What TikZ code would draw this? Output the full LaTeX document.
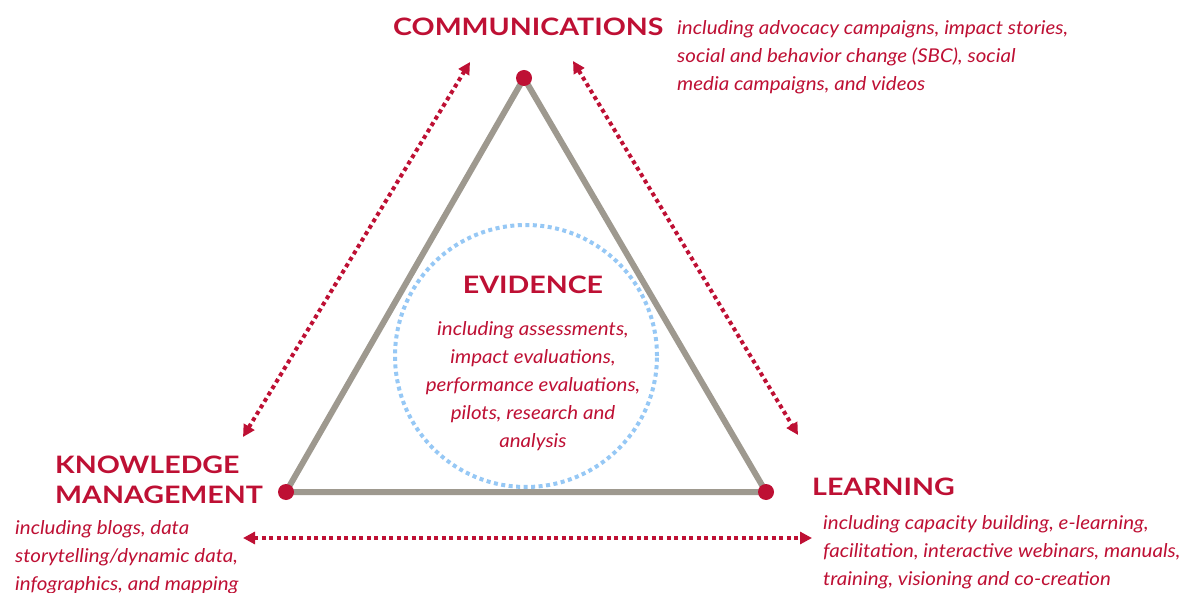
\documentclass[tikz,border=0pt]{standalone}
\usepackage{fontspec}
\setmainfont{Lato}[FakeStretch=1.08]
\newfontfamily\headfont{Lato}[FakeStretch=1.19]
\usetikzlibrary{arrows.meta}
\definecolor{kmred}{RGB}{190,16,52}
\definecolor{kmgray}{RGB}{158,153,143}
\definecolor{kmblue}{RGB}{150,200,245}
\begin{document}
\begin{tikzpicture}[x=1pt,y=-1pt,
  head/.style={font=\headfont\fontsize{24}{30}\selectfont\bfseries, text=kmred, inner sep=0pt},
  blurb/.style={font=\fontsize{19}{28}\selectfont\itshape, text=kmred, inner sep=0pt},
  corner/.style={circle, fill=kmred, inner sep=0pt, minimum size=16pt},
  link/.style={kmred, line width=4pt, dash pattern=on 4pt off 3.5pt,
    {Triangle[length=12pt,width=12pt]}-{Triangle[length=12pt,width=12pt]}}]
\useasboundingbox (0,0) rectangle (1180,593);
% triangle
\coordinate (top) at (524,78);
\coordinate (left) at (286,492);
\coordinate (right) at (766,492);
\draw[kmgray, line width=6pt, line join=round] (top) -- (left) -- (right) -- cycle;
\node[corner] (ctop) at (top) {};
\node[corner] (cleft) at (left) {};
\node[corner] (cright) at (right) {};
% evidence circle
\node[circle, draw=kmblue, line width=4pt, dash pattern=on 4pt off 3.5pt,
  minimum size=262pt, inner sep=0pt] (ring) at (526,356) {};
% two-way links
\coordinate (a1) at (243,437);
\coordinate (a2) at (470,62);
\coordinate (b1) at (573,61);
\coordinate (b2) at (798,435);
\coordinate (c1) at (243,538);
\coordinate (c2) at (812,538);
\draw[link] (a1) -- (a2);
\draw[link] (b1) -- (b2);
\draw[link] (c1) -- (c2);
% labels (base anchor = last line)
\node[head, anchor=base west] (comm) at (393,36) {COMMUNICATIONS};
\node[blurb, anchor=base west, align=left] (commtxt) at (677,91)
  {including advocacy campaigns, impact stories,\\
   social and behavior change (SBC), social\\
   media campaigns, and videos};
\node[head, anchor=base] (evid) at (533,294) {EVIDENCE};
\node[blurb, anchor=base, align=center] (evidtxt) at (533,447)
  {including assessments,\\ impact evaluations,\\ performance evaluations,\\
   pilots, research and\\ analysis};
\node[head, anchor=base west, align=left] (km) at (55,503)
  {KNOWLEDGE\\ MANAGEMENT};
\node[blurb, anchor=base west, align=left] (kmtxt) at (15,590)
  {including blogs, data\\ storytelling/dynamic data,\\ infographics, and mapping};
\node[head, anchor=base west] (learn) at (812,495) {LEARNING};
\node[blurb, anchor=base west, align=left] (learntxt) at (823,585)
  {including capacity building, e-learning,\\
   facilitation, interactive webinars, manuals,\\
   training, visioning and co-creation};
\end{tikzpicture}
\end{document}
